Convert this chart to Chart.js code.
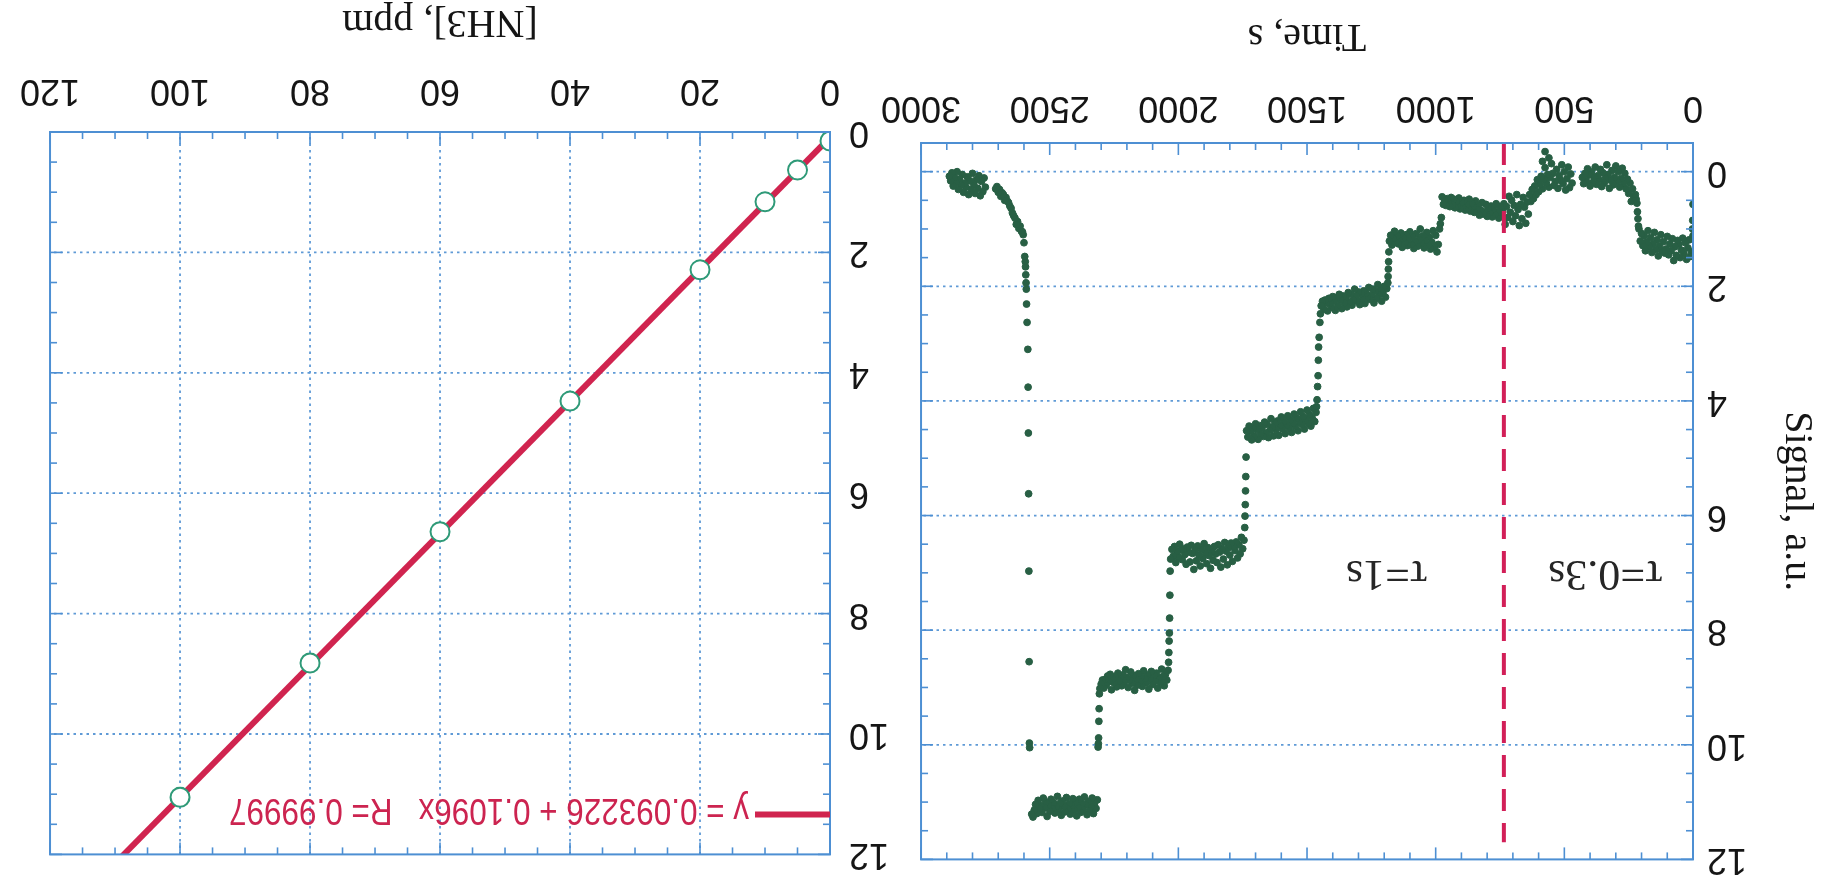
<!DOCTYPE html>
<html>
<head>
<meta charset="utf-8">
<script src="https://cdn.jsdelivr.net/npm/chart.js@4.4.1/dist/chart.umd.min.js"></script>
<style>
  html, body { margin: 0; padding: 0; background: #fff; overflow: hidden; }
  #page { position: absolute; left: 0; top: 0; width: 1827px; height: 895px; transform: rotate(180deg); transform-origin: 50% 50%; }
  #timeChart { position: absolute; left: 0; top: 0; }
  #calChart { position: absolute; left: 930px; top: 0; }
</style>
</head>
<body>
<div id="page">
  <canvas id="timeChart" width="960" height="895"></canvas>
  <canvas id="calChart" width="897" height="895"></canvas>
</div>
<script>
/* tick labels */
var timeTicks = [0, 500, 1000, 1500, 2000, 2500, 3000];
var signalTicks = [0, 2, 4, 6, 8, 10, 12];
var concTicks = [0, 20, 40, 60, 80, 100, 120];

/* time trace: plateaus sampled every 5 s, each list starts at segStart[k] */
var SAMPLE_STEP = 5;
var segStart = [0, 230, 470, 640, 990, 1190, 1465, 1745, 2040, 2315, 2610, 2750];
var segA = [1.12, 1.40, 1.48, 1.19, 1.33, 1.53, 1.24, 1.43, 1.16, 1.37, 1.50, 1.27, 1.20, 1.46, 1.31, 1.55, 1.17, 1.38, 1.26, 1.45, 1.13, 1.35, 1.42, 1.22, 1.39, 1.10, 1.30, 1.47, 1.19, 1.36, 1.06, 1.26, 1.41, 1.15, 1.31, 1.03, 1.23, 1.38, 1.12, 1.29, 1.08, 1.21, 1.00];
var segB = [0.44, 0.30, 0.52, 0.20, 0.38, 0.13, 0.30, 0.03, 0.21, -0.06, 0.12, 0.27, 0.00, 0.17, -0.10, 0.10, 0.23, -0.02, 0.15, 0.29, 0.05, -0.12, 0.12, 0.20, 0.02, 0.26, -0.04, 0.14, 0.07, 0.22, -0.08, 0.09, 0.19, 0.00, 0.25, 0.06, -0.05, 0.16, 0.03, 0.21, 0.10];
var segC = [0.20, 0.04, 0.28, -0.08, 0.12, 0.32, 0.00, 0.21, -0.12, 0.15, 0.07, 0.29, -0.04, 0.17, 0.24, 0.03, -0.14, 0.10, 0.27, 0.05, 0.20, -0.07, 0.13, 0.30, 0.08, 0.22, 0.35, 0.14, 0.40, 0.25, 0.47, 0.31, 0.52, 0.40];
var segD = [0.74, 0.53, 0.90, 0.62, 0.45, 0.82, 0.57, 0.94, 0.66, 0.40, 0.77, 0.59, 0.87, 0.50, 0.71, 0.43, 0.80, 0.61, 0.92, 0.56,
  0.69, 0.77, 0.61, 0.81, 0.71, 0.56, 0.75, 0.65, 0.79, 0.60, 0.72, 0.63, 0.78, 0.57, 0.70, 0.74, 0.54, 0.67, 0.76, 0.59, 0.66, 0.51, 0.71, 0.61, 0.55, 0.69, 0.48, 0.64,
  0.57, 0.67, 0.50, 0.62, 0.53, 0.65, 0.46, 0.60, 0.52, 0.63, 0.48, 0.58, 0.45, 0.61, 0.51, 0.47, 0.59, 0.49, 0.57, 0.44];
var segE = [1.27, 1.40, 1.11, 1.31, 1.03, 1.23, 1.35, 1.14, 1.28, 1.06, 1.20, 1.33, 1.12, 1.25, 1.00, 1.18, 1.30, 1.08, 1.22, 1.34, 1.13, 1.27, 1.05, 1.19, 1.29, 1.10, 1.24, 1.16, 1.32, 1.07, 1.20, 1.26, 1.12, 1.23, 1.04, 1.17, 1.28, 1.11, 1.21];
var segF = [2.04, 2.19, 2.00, 2.12, 2.26, 2.07, 2.15, 1.97, 2.21, 2.09, 2.29, 2.05, 2.16, 2.23, 2.02, 2.19, 2.12, 2.30, 2.08, 2.22, 2.13, 2.32, 2.10, 2.26, 2.17, 2.05, 2.24, 2.33, 2.14, 2.27,
  2.11, 2.36, 2.20, 2.29, 2.17, 2.39, 2.24, 2.14, 2.34, 2.21, 2.42, 2.26, 2.18, 2.37, 2.29, 2.21, 2.43, 2.30, 2.24, 2.40, 2.26, 2.34];
var segG = [4.20, 4.36, 4.13, 4.30, 4.44, 4.24, 4.39, 4.16, 4.33, 4.49, 4.27, 4.41, 4.19, 4.36, 4.52, 4.30, 4.45, 4.23, 4.39, 4.55, 4.33, 4.47, 4.26, 4.42, 4.57, 4.36, 4.49, 4.28,
  4.43, 4.60, 4.35, 4.50, 4.39, 4.61, 4.46, 4.31, 4.52, 4.64, 4.41, 4.56, 4.37, 4.62, 4.47, 4.58, 4.43, 4.67, 4.50, 4.40, 4.61, 4.48, 4.68, 4.53, 4.44, 4.63, 4.52];
var segH = [6.43, 6.58, 6.38, 6.67, 6.51, 6.74, 6.46, 6.61, 6.54, 6.80, 6.48, 6.69, 6.56, 6.86, 6.62, 6.47, 6.76, 6.58, 6.90, 6.64, 6.51, 6.82, 6.67, 6.54, 6.78, 6.63, 6.92, 6.70, 6.56,
  6.84, 6.65, 6.49, 6.75, 6.59, 6.88, 6.69, 6.53, 6.79, 6.61, 6.94, 6.66, 6.52, 6.81, 6.64, 6.55, 6.85, 6.68, 6.58, 6.77, 6.60, 6.50, 6.72, 6.63, 6.82, 6.54, 6.71, 6.59, 6.76];
var segI = [8.70, 8.87, 8.77, 8.97, 8.81, 8.68, 8.91, 8.83, 9.01, 8.75, 8.89, 8.79, 8.95, 8.72, 8.85, 9.03, 8.78, 8.92, 8.84, 8.71, 8.98, 8.81, 8.90, 8.76, 8.96, 8.86, 9.05,
  8.79, 8.93, 8.73, 8.87, 9.00, 8.83, 8.69, 8.91, 8.78, 8.97, 8.84, 8.89, 8.75, 8.99, 8.81, 8.92, 8.85, 9.04, 8.77, 8.90, 8.80, 8.96, 8.86, 9.01, 8.87, 8.94, 9.02];
var segJ = [10.96, 11.11, 11.01, 11.20, 10.93, 11.08, 11.15, 10.99, 11.22, 11.05, 10.91, 11.13, 11.02, 11.18, 10.95, 11.09, 11.24, 11.00, 11.14, 10.94, 11.06, 11.21, 11.03, 11.12, 10.92, 11.17,
  11.07, 10.98, 11.23, 11.02, 11.13, 10.90, 11.08, 11.19, 11.01, 11.11, 10.95, 11.16, 11.05, 11.25, 11.00, 11.10, 10.93, 11.18, 11.06, 11.12, 10.97, 11.20, 11.04, 11.14, 11.26, 11.21];
var segK = [1.04, 0.95, 0.99, 0.87, 0.92, 0.81, 0.77, 0.72, 0.64, 0.60, 0.54, 0.51, 0.45, 0.50, 0.40, 0.37, 0.43, 0.31, 0.36, 0.26, 0.30];
var segL = [0.27, 0.11, 0.35, 0.17, 0.42, 0.07, 0.29, 0.14, 0.38, 0.22, 0.03, 0.31, 0.16, 0.40, 0.09, 0.27, 0.20, 0.36, 0.05, 0.24, 0.13, 0.31, 0.00, 0.19, 0.10, 0.25, 0.02, 0.16, 0.08];

/* single readings during the fast steps */
var jumpTimes = [0, 1, 2, 212, 214, 216, 218, 221, 224, 560, 575, 585, 978, 982, 985,
  1182, 1183, 1184, 1185, 1186, 1448, 1450, 1453, 1455, 1456, 1457, 1459, 1461, 1463,
  1737, 1738, 1739, 1740, 1741, 1742, 2032, 2033, 2034, 2035, 2036, 2037, 2038,
  2307, 2308, 2309, 2310, 2311, 2312,
  2578, 2579, 2580, 2581, 2582, 2583, 2584, 2585, 2588, 2590, 2591, 2592, 2593, 2594, 2595, 2597, 2600, 2603, 2606];
var jumpValues = [0.57, 0.85, 1.00, 0.95, 0.82, 0.70, 0.55, 0.48, 0.40, -0.24, -0.35, -0.18, 0.80, 0.91, 1.00,
  1.40, 1.57, 1.70, 1.83, 1.94, 2.48, 2.63, 2.89, 3.06, 3.29, 3.56, 3.75, 3.98, 4.10,
  4.98, 5.32, 5.57, 5.81, 6.01, 6.21, 6.97, 7.39, 7.79, 8.05, 8.19, 8.39, 8.56,
  9.11, 9.37, 9.59, 9.88, 9.98, 10.04,
  10.05, 9.97, 8.55, 6.97, 5.62, 4.56, 3.76, 3.10, 2.63, 2.31, 2.05, 1.94, 1.80, 1.66, 1.57, 1.48, 1.24, 1.10, 1.05];

/* time constant switch */
var switchTime = [735, 735];
var switchSignal = [-0.5, 11.7];

/* calibration */
var calConc = [0, 5, 10, 20, 40, 60, 80, 100];
var calSignal = [0.15, 0.63, 1.16, 2.29, 4.47, 6.64, 8.82, 11.05];
var fitConc = [0, 110];
var fitSignal = [0.09, 12.15];
var fitText = "y = 0.093226 + 0.1096x   R= 0.99997";

/* build point lists */
var segments = [segA, segB, segC, segD, segE, segF, segG, segH, segI, segJ, segK, segL];
var tracePoints = [];
segments.forEach(function (seg, k) {
  seg.forEach(function (v, i) {
    tracePoints.push({ x: segStart[k] + i * SAMPLE_STEP, y: v });
  });
});
jumpTimes.forEach(function (t, i) {
  tracePoints.push({ x: t, y: jumpValues[i] });
});
var switchLine = switchTime.map(function (t, i) { return { x: t, y: switchSignal[i] }; });
var calPoints = calConc.map(function (c, i) { return { x: c, y: calSignal[i] }; });
var fitLine = fitConc.map(function (c, i) { return { x: c, y: fitSignal[i] }; });

var BLUE = "#4d8fd3";
var TICK_FONT = { family: "Liberation Sans", size: 36 };
var TITLE_FONT = { family: "Liberation Serif", size: 40 };
var INK = "#151515";

function fixTicks(list) {
  return function (scale) {
    scale.ticks = list.map(function (v) { return { value: v }; });
  };
}

/* border, dotted grid and inward ticks */
function line(ctx, x1, y1, x2, y2) {
  ctx.beginPath(); ctx.moveTo(x1, y1); ctx.lineTo(x2, y2); ctx.stroke();
}
var framePlugin = {
  id: "frame",
  beforeDatasetsDraw: function (chart, args, opts) {
    var ctx = chart.ctx, a = chart.chartArea, x = chart.scales.x, y = chart.scales.y;
    ctx.save();
    ctx.strokeStyle = opts.gridColor;
    ctx.lineWidth = 1.8;
    ctx.setLineDash([2.5, 4]);
    if (opts.gridX) x.ticks.forEach(function (t) {
      var px = x.getPixelForValue(t.value);
      if (px > a.left + 2 && px < a.right - 2) line(ctx, px, a.top, px, a.bottom);
    });
    if (opts.gridY) y.ticks.forEach(function (t) {
      var py = y.getPixelForValue(t.value);
      if (py > a.top + 2 && py < a.bottom - 2) line(ctx, a.left, py, a.right, py);
    });
    ctx.restore();
  },
  afterDatasetsDraw: function (chart, args, opts) {
    var ctx = chart.ctx, a = chart.chartArea, x = chart.scales.x, y = chart.scales.y;
    ctx.save();
    ctx.strokeStyle = BLUE;
    ctx.lineWidth = 1.6;
    var v, px, py, len;
    for (v = x.min; v <= x.max + 1e-6; v += opts.xMinor) {
      px = x.getPixelForValue(v);
      len = x.ticks.some(function (t) { return Math.abs(t.value - v) < 1e-6; }) ? 12 : 7;
      line(ctx, px, a.bottom, px, a.bottom - len);
      line(ctx, px, a.top, px, a.top + len);
    }
    for (v = Math.ceil(y.min / opts.yMinor) * opts.yMinor; v <= y.max + 1e-6; v += opts.yMinor) {
      py = y.getPixelForValue(v);
      len = y.ticks.some(function (t) { return Math.abs(t.value - v) < 1e-6; }) ? 12 : 7;
      line(ctx, a.left, py, a.left + len, py);
      line(ctx, a.right, py, a.right - len, py);
    }
    ctx.lineWidth = 2;
    ctx.strokeRect(a.left, a.top, a.right - a.left, a.bottom - a.top);
    ctx.restore();
  }
};

/* tau labels */
var tauNotes = [{ text: "\u03c4=0.3s", t: 340 }, { text: "\u03c4=1s", t: 1190 }];
var tauPlugin = {
  id: "tau",
  afterDatasetsDraw: function (chart) {
    var ctx = chart.ctx, x = chart.scales.x, y = chart.scales.y;
    ctx.save();
    ctx.fillStyle = "#262626";
    ctx.font = "44px 'Liberation Serif'";
    ctx.textAlign = "center";
    ctx.textBaseline = "alphabetic";
    tauNotes.forEach(function (n) {
      ctx.fillText(n.text, x.getPixelForValue(n.t), y.getPixelForValue(6.8));
    });
    ctx.restore();
  }
};

/* fit legend */
var fitLegendPlugin = {
  id: "fitLegend",
  afterDatasetsDraw: function (chart) {
    var ctx = chart.ctx, a = chart.chartArea;
    ctx.save();
    ctx.strokeStyle = "#d0244f";
    ctx.lineWidth = 6;
    line(ctx, a.left, a.top + 40, a.left + 75, a.top + 40);
    ctx.fillStyle = "#cc2450";
    ctx.font = "36px 'Liberation Sans'";
    ctx.textBaseline = "middle";
    var sx = 520 / ctx.measureText(fitText).width;
    ctx.translate(a.left + 81, a.top + 45);
    ctx.scale(sx, 1);
    ctx.fillText(fitText, 0, 0);
    ctx.restore();
  }
};

/* signal vs time */
new Chart(document.getElementById("timeChart"), {
  type: "scatter",
  data: {
    datasets: [
      {
        data: switchLine,
        showLine: true,
        borderColor: "#d21f58",
        borderWidth: 4,
        borderDash: [22, 12],
        pointRadius: 0,
        order: 0,
      },
      {
        data: tracePoints,
        backgroundColor: "#285f44",
        borderColor: "#285f44",
        borderWidth: 1,
        pointRadius: 3.4,
        order: 1,
      },
    ],
  },
  options: {
    responsive: false,
    animation: false,
    events: [],
    layout: { padding: { left: 0, right: 51, top: 25, bottom: 0 } },
    plugins: {
      legend: { display: false },
      tooltip: { enabled: false },
      frame: { gridX: false, gridY: true, xMinor: 100, yMinor: 0.5, gridColor: "#5f9ad6" },
    },
    scales: {
      x: {
        type: "linear",
        position: "bottom",
        min: 0,
        max: 3000,
        afterBuildTicks: fixTicks(timeTicks),
        afterFit: function (s) { s.height = 143; },
        grid: { display: false, drawTicks: false },
        border: { display: false },
        ticks: { font: TICK_FONT, color: INK, padding: 14, maxRotation: 0, autoSkip: false,
          callback: function (v) { return String(v); } },
        title: { display: true, text: "Time, s", font: TITLE_FONT, color: INK, padding: { top: 0, bottom: 12 } },
      },
      y: {
        type: "linear",
        position: "left",
        min: -0.5,
        max: 12,
        afterBuildTicks: fixTicks(signalTicks),
        afterFit: function (s) { s.width = 134; },
        grid: { display: false, drawTicks: false },
        border: { display: false },
        ticks: { font: TICK_FONT, color: INK, padding: 14, callback: function (v) { return String(v); } },
        title: { display: true, text: "Signal, a.u.", font: TITLE_FONT, color: INK, padding: { top: 6, bottom: 0 } },
      },
    },
  },
  plugins: [framePlugin, tauPlugin],
});

/* calibration */
new Chart(document.getElementById("calChart"), {
  type: "scatter",
  data: {
    datasets: [
      {
        data: calPoints,
        backgroundColor: "#ffffff",
        borderColor: "#2f9a78",
        borderWidth: 2,
        pointRadius: 9.5,
        order: 0,
      },
      {
        data: fitLine,
        showLine: true,
        borderColor: "#d0244f",
        borderWidth: 6,
        pointRadius: 0,
        order: 1,
      },
    ],
  },
  options: {
    responsive: false,
    animation: false,
    events: [],
    layout: { padding: { left: 0, right: 41, top: 27, bottom: 0 } },
    plugins: {
      legend: { display: false },
      tooltip: { enabled: false },
      frame: { gridX: true, gridY: true, xMinor: 5, yMinor: 0.5, gridColor: "#5f9ad6" },
    },
    scales: {
      x: {
        type: "linear",
        position: "bottom",
        min: 0,
        max: 120,
        afterBuildTicks: fixTicks(concTicks),
        afterFit: function (s) { s.height = 132; },
        grid: { display: false, drawTicks: false },
        border: { display: false },
        ticks: { font: TICK_FONT, color: INK, padding: 20, maxRotation: 0, autoSkip: false },
        title: { display: true, text: "[NH3], ppm", font: TITLE_FONT, color: INK, padding: { top: 0, bottom: -2 } },
      },
      y: {
        type: "linear",
        position: "left",
        min: 0,
        max: 12,
        afterBuildTicks: fixTicks(signalTicks),
        afterFit: function (s) { s.width = 67; },
        grid: { display: false, drawTicks: false },
        border: { display: false },
        ticks: { font: TICK_FONT, color: INK, padding: 19 },
      },
    },
  },
  plugins: [framePlugin, fitLegendPlugin],
});
</script>
</body>
</html>
